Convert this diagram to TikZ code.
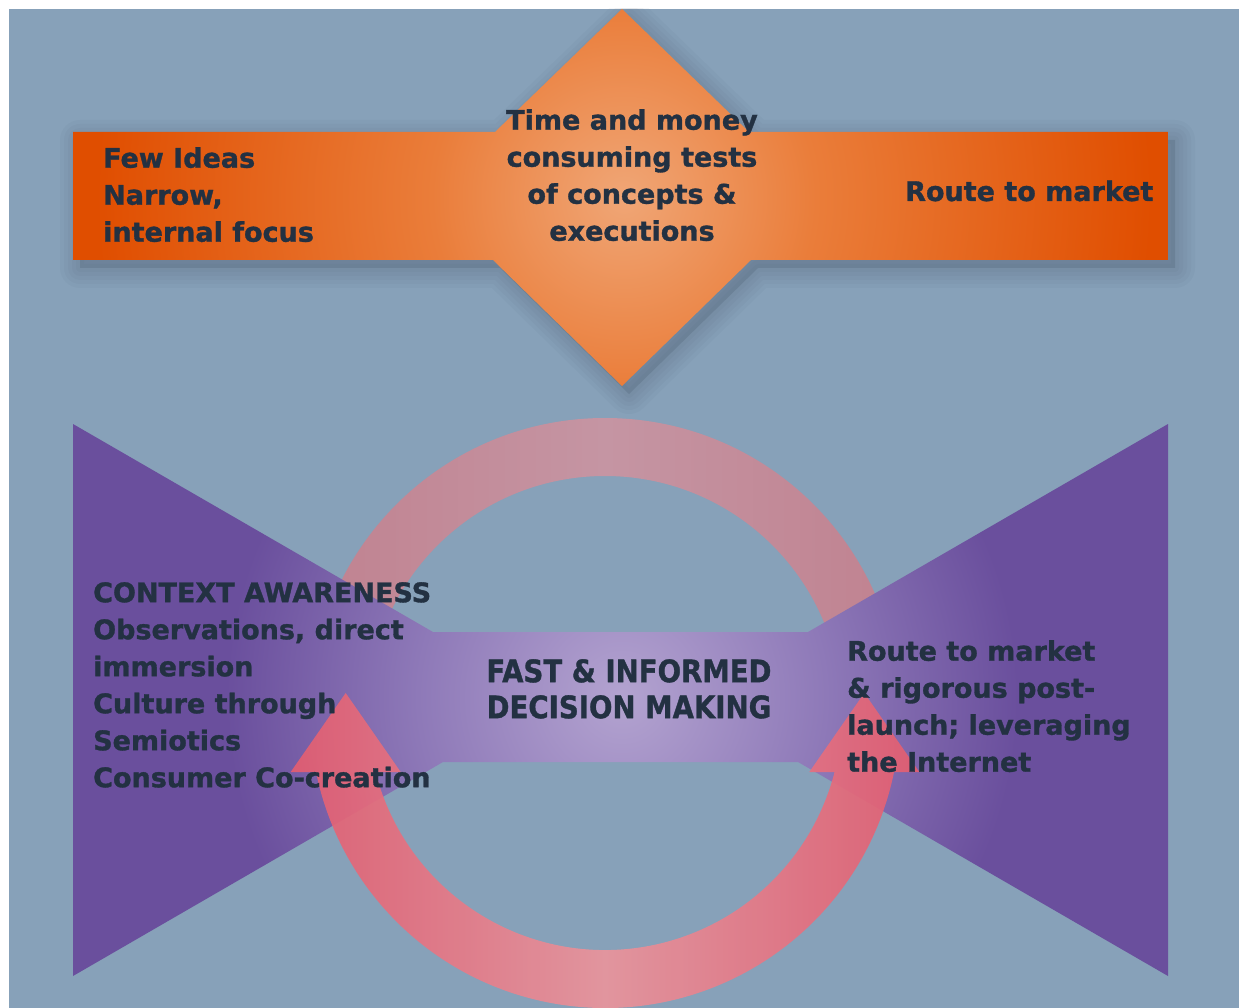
\documentclass[tikz,border=0pt]{standalone}
\usepackage{fontspec}
\setmainfont{DejaVu Sans}[BoldFeatures={FakeBold=1.2}]
\usepackage{graphicx}
\usetikzlibrary{calc}

\definecolor{bgblue}{HTML}{87A1B9}
\definecolor{inkdark}{HTML}{233142}
\definecolor{orD}{HTML}{E04E00}
\definecolor{orM}{HTML}{EA7D3A}
\definecolor{orL}{HTML}{F0A676}
\definecolor{puD}{HTML}{6A4F9D}
\definecolor{puM}{HTML}{8E79B8}
\definecolor{puL}{HTML}{B3A3D0}
\definecolor{pkD}{HTML}{E35D70}
\definecolor{pkL}{HTML}{E9949C}
\definecolor{rgD}{HTML}{C08290}
\definecolor{rgL}{HTML}{C595A3}
\definecolor{shadowc}{HTML}{3E4E62}

% radial glows: 25bp corresponds to half the width of the shaded square
\pgfdeclareradialshading{orangeglow}{\pgfpointorigin}{color(0bp)=(orL); color(8bp)=(orM); color(22bp)=(orD); color(50bp)=(orD)}
\pgfdeclareradialshading{purpleglow}{\pgfpointorigin}{color(0bp)=(puL); color(8.5bp)=(puM); color(16.5bp)=(puD); color(50bp)=(puD)}

\tikzset{
  txt/.style={text=inkdark, inner sep=0pt, font=\fontsize{27}{37}\selectfont\bfseries},
  bigtxt/.style={text=inkdark, inner sep=0pt, font=\fontsize{31}{36}\selectfont\bfseries},
  shadowstroke/.style={draw=shadowc, line join=round, draw opacity=0.045},
}

\begin{document}
\begin{tikzpicture}[x=1pt, y=-1pt]
  \useasboundingbox (0,0) rectangle (1239,1008);
  \fill[white] (0,0) rectangle (1239,1008);
  \fill[bgblue] (9,9) rectangle (1239,1008);

  % soft shadow under the orange cross
  \begin{scope}
    \clip (9,9) rectangle (1239,1008);
    \foreach \w in {40,32,24,16,8} {
      \path[shadowstroke, line width=\w, shift={(7,8)}]
        (73,132) -- (495,132) -- (622,9) -- (749,132) -- (1168,132) -- (1168,260)
        -- (751,260) -- (622,386) -- (493,260) -- (73,260) -- cycle;
    }
    \fill[shadowc, opacity=0.2, shift={(7,8)}]
        (73,132) -- (495,132) -- (622,9) -- (749,132) -- (1168,132) -- (1168,260)
        -- (751,260) -- (622,386) -- (493,260) -- (73,260) -- cycle;
  \end{scope}

  % orange cross: bar plus diamond
  \begin{scope}
    \clip (73,132) -- (495,132) -- (622,9) -- (749,132) -- (1168,132) -- (1168,260)
      -- (751,260) -- (622,386) -- (493,260) -- (73,260) -- cycle;
    \shade[shading=orangeglow] (24,-403) rectangle (1224,797);
  \end{scope}

  % upper half of the ring (behind the bow tie)
  \shade[left color=rgD, right color=rgD, middle color=rgL]
    (310,713) arc[start angle=180, end angle=360, radius=295]
    -- (842,713) arc[start angle=360, end angle=180, radius=237] -- cycle;

  % bow tie with its central bar
  \begin{scope}
    \clip (73,424) -- (433,632) -- (808,632) -- (1168,424) -- (1168,976)
      -- (798,762) -- (443,762) -- (73,976) -- cycle;
    \shade[shading=purpleglow] (22,97) rectangle (1222,1297);
  \end{scope}

  % lower half of the ring: double-headed arrow
  \shade[left color=pkD, right color=pkD, middle color=pkL, opacity=0.92]
    (345.7,693) -- (400.7,772) -- (375.5,772)
    arc[start angle=165.59, end angle=14.41, radius=237]
    -- (809.3,772) -- (864.3,693) -- (919.3,772) -- (894.04,772)
    arc[start angle=11.54, end angle=168.46, radius=295]
    -- (290.7,772) -- cycle;

  % texts
  \node[txt, anchor=north west, align=left] (ideas) at (103,147)
    {Few Ideas\\Narrow,\\internal focus};
  \node[txt, anchor=north, align=center] (tests) at (632,109)
    {Time and money\\consuming tests\\of concepts \&\\executions};
  \node[txt, anchor=base west] (route) at (905,201) {Route to market};

  \node[txt, anchor=north west, align=left] (context) at (93,582)
    {CONTEXT AWARENESS\\Observations, direct\\immersion\\Culture through\\Semiotics\\Consumer Co-creation};
  \node[bigtxt, anchor=north, align=center] (fast) at (629,659)
    {\scalebox{0.89}[1]{FAST \& INFORMED}\\\scalebox{0.89}[1]{DECISION MAKING}};
  \node[txt, anchor=north west, align=left] (post) at (847,640)
    {Route to market\\\& rigorous post-\\launch; leveraging\\the Internet};
\end{tikzpicture}
\end{document}
